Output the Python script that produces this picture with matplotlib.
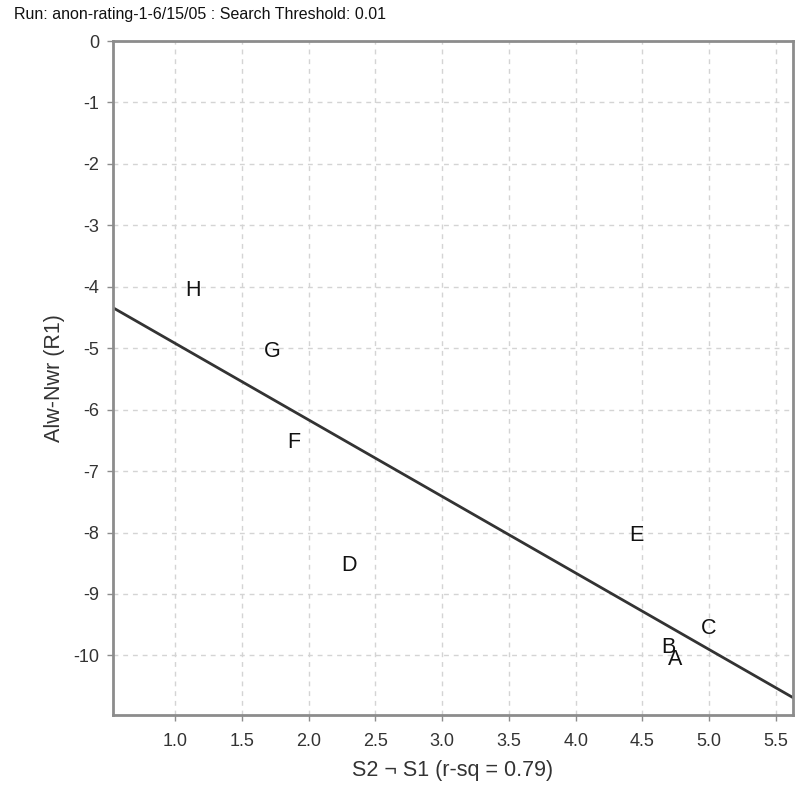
import numpy as np
import matplotlib
matplotlib.use("Agg")
import matplotlib.pyplot as plt

plt.rcParams['font.family'] = ['Liberation Sans', 'DejaVu Sans']

labels = ["A", "B", "C", "D", "E", "F", "G", "H"]
x_vals = [4.748, 4.692, 4.999, 2.305, 4.451, 1.893, 1.731, 1.137]
y_vals = [-10.07, -9.864, -9.565, -8.533, -8.050, -6.541, -5.058, -4.057]

x_ticks = [1.0, 1.5, 2.0, 2.5, 3.0, 3.5, 4.0, 4.5, 5.0, 5.5]
y_ticks = [0, -1, -2, -3, -4, -5, -6, -7, -8, -9, -10]
x_range = (0.536, 5.627)
y_range = (-10.97, 0.0)

title = "Run: anon-rating-1-6/15/05 : Search Threshold: 0.01"
xlabel = "S2 \u00ac S1 (r-sq = 0.79)"
ylabel = "Alw-Nwr (R1)"

W, H = 796, 791
fig = plt.figure(figsize=(W / 100, H / 100), dpi=100)
ax = fig.add_axes([113 / W, 1 - 715 / H, (793 - 113) / W, (715 - 41) / H])

ax.set_xlim(*x_range)
ax.set_ylim(*y_range)

ax.set_xticks(x_ticks)
ax.set_xticklabels([f"{t:.1f}" for t in x_ticks])
ax.set_yticks(y_ticks)
ax.set_yticklabels([str(t) for t in y_ticks])

ax.grid(True, color='#d4d4d4', linestyle=(0, (3.5, 3.5)), linewidth=1.0)
ax.set_axisbelow(True)

for s in ax.spines.values():
    s.set_color('#8c8c8c')
    s.set_linewidth(2.0)

ax.tick_params(axis='both', direction='out', length=4, width=1, color='#8c8c8c',
               labelsize=13, labelcolor='#333333')
ax.tick_params(axis='x', pad=9)
ax.tick_params(axis='y', pad=6)

# regression line from the data
slope, intercept = np.polyfit(x_vals, y_vals, 1)
xs = np.array(x_range)
ax.plot(xs, slope * xs + intercept, color='#333333', linewidth=2.0, clip_on=True)

for lab, xv, yv in zip(labels, x_vals, y_vals):
    ax.text(xv, yv, lab, ha='center', va='center', fontsize=15.5, color='#111111')

ax.set_xlabel(xlabel, fontsize=15.5, color='#333333', labelpad=7)
ax.set_ylabel(ylabel, fontsize=15.5, color='#333333', labelpad=6)

fig.text(14 / W, 1 - 14 / H, title, ha='left', va='center', fontsize=11.5, color='#111111')

fig.savefig("out.png", dpi=100, facecolor='white')
